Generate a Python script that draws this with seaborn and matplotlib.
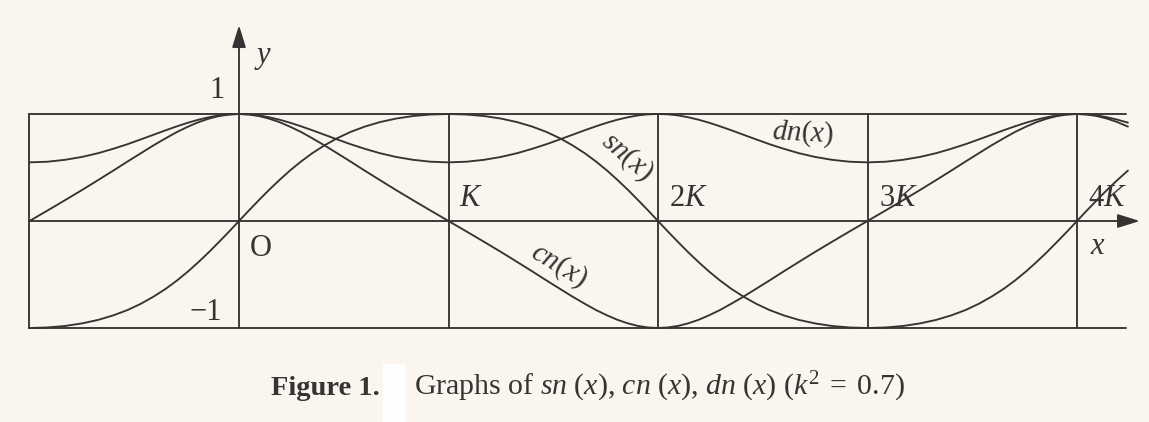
import matplotlib
matplotlib.use("Agg")
import matplotlib.pyplot as plt
import seaborn as sns
import pandas as pd
from matplotlib.patches import Rectangle

# Abscissa in units of the quarter period K, from -K to just past 4K
x_over_K = [
    -1.000, -0.914, -0.830, -0.749, -0.672, -0.600, -0.532, -0.468, -0.408,
    -0.350, -0.296, -0.243, -0.193, -0.143, -0.095, -0.047, 0.000,
    0.047, 0.095, 0.143, 0.193, 0.243, 0.296, 0.350, 0.408,
    0.468, 0.532, 0.600, 0.672, 0.749, 0.830, 0.914, 1.000,
    1.086, 1.170, 1.251, 1.328, 1.400, 1.468, 1.532, 1.592,
    1.650, 1.704, 1.757, 1.807, 1.857, 1.905, 1.953, 2.000,
    2.047, 2.095, 2.143, 2.193, 2.243, 2.296, 2.350, 2.408,
    2.468, 2.532, 2.600, 2.672, 2.749, 2.830, 2.914, 3.000,
    3.086, 3.170, 3.251, 3.328, 3.400, 3.468, 3.532, 3.592,
    3.650, 3.704, 3.757, 3.807, 3.857, 3.905, 3.953, 4.000,
    4.047, 4.095, 4.143, 4.193, 4.243,
]

sn_vals = [
    -1.000, -0.995, -0.981, -0.957, -0.924, -0.882, -0.832, -0.773, -0.707,
    -0.634, -0.556, -0.471, -0.383, -0.290, -0.195, -0.098, 0.000,
    0.098, 0.195, 0.290, 0.383, 0.471, 0.556, 0.634, 0.707,
    0.773, 0.832, 0.882, 0.924, 0.957, 0.981, 0.995, 1.000,
    0.995, 0.981, 0.957, 0.924, 0.882, 0.832, 0.773, 0.707,
    0.634, 0.556, 0.471, 0.383, 0.290, 0.195, 0.098, 0.000,
    -0.098, -0.195, -0.290, -0.383, -0.471, -0.556, -0.634, -0.707,
    -0.773, -0.832, -0.882, -0.924, -0.957, -0.981, -0.995, -1.000,
    -0.995, -0.981, -0.957, -0.924, -0.882, -0.832, -0.773, -0.707,
    -0.634, -0.556, -0.471, -0.383, -0.290, -0.195, -0.098, 0.000,
    0.098, 0.195, 0.290, 0.383, 0.471,
]

cn_vals = [
    0.000, 0.098, 0.195, 0.290, 0.383, 0.471, 0.556, 0.634, 0.707,
    0.773, 0.832, 0.882, 0.924, 0.957, 0.981, 0.995, 1.000,
    0.995, 0.981, 0.957, 0.924, 0.882, 0.832, 0.773, 0.707,
    0.634, 0.556, 0.471, 0.383, 0.290, 0.195, 0.098, 0.000,
    -0.098, -0.195, -0.290, -0.383, -0.471, -0.556, -0.634, -0.707,
    -0.773, -0.832, -0.882, -0.924, -0.957, -0.981, -0.995, -1.000,
    -0.995, -0.981, -0.957, -0.924, -0.882, -0.832, -0.773, -0.707,
    -0.634, -0.556, -0.471, -0.383, -0.290, -0.195, -0.098, 0.000,
    0.098, 0.195, 0.290, 0.383, 0.471, 0.556, 0.634, 0.707,
    0.773, 0.832, 0.882, 0.924, 0.957, 0.981, 0.995, 1.000,
    0.995, 0.981, 0.957, 0.924, 0.882,
]

dn_vals = [
    0.548, 0.554, 0.572, 0.599, 0.634, 0.675, 0.718, 0.763, 0.806,
    0.848, 0.885, 0.919, 0.947, 0.970, 0.987, 0.997, 1.000,
    0.997, 0.987, 0.970, 0.947, 0.919, 0.885, 0.848, 0.806,
    0.763, 0.718, 0.675, 0.634, 0.599, 0.572, 0.554, 0.548,
    0.554, 0.572, 0.599, 0.634, 0.675, 0.718, 0.763, 0.806,
    0.848, 0.885, 0.919, 0.947, 0.970, 0.987, 0.997, 1.000,
    0.997, 0.987, 0.970, 0.947, 0.919, 0.885, 0.848, 0.806,
    0.763, 0.718, 0.675, 0.634, 0.599, 0.572, 0.554, 0.548,
    0.554, 0.572, 0.599, 0.634, 0.675, 0.718, 0.763, 0.806,
    0.848, 0.885, 0.919, 0.947, 0.970, 0.987, 0.997, 1.000,
    0.997, 0.987, 0.970, 0.947, 0.919,
]

period_marks = [1, 2, 3, 4]
period_labels = [r"$K$", r"$2K$", r"$3K$", r"$4K$"]
caption_head = "Figure 1."
caption_body = r"Graphs of $sn\ (x)$, $cn\ (x)$, $dn\ (x)$ $(k^2\;=\;0.7)$"

sns.set_theme(style="white")
plt.rcParams["font.family"] = ["Liberation Serif", "DejaVu Serif"]
plt.rcParams["mathtext.fontset"] = "custom"
plt.rcParams["mathtext.rm"] = "Liberation Serif"
plt.rcParams["mathtext.it"] = "Liberation Serif:italic"
plt.rcParams["mathtext.bf"] = "Liberation Serif:bold"

paper = "#faf5ee"
ink = "#383232"
lw = 1.35

fig = plt.figure(figsize=(11.49, 4.22), dpi=100, facecolor=paper)
ax = fig.add_axes([0, 0, 1, 1])
ax.set_facecolor(paper)
ax.set_xlim(-239 / 209.5, (1149 - 239) / 209.5)
ax.set_ylim((221 - 422) / 107, 221 / 107)
ax.axis("off")


def px(x_pix, y_pix):
    """Pixel position on the page -> (x in K units, y value)."""
    return (x_pix - 239) / 209.5, (221 - y_pix) / 107


curves = pd.DataFrame({"x": x_over_K, "sn": sn_vals, "cn": cn_vals, "dn": dn_vals})
for name in ["sn", "cn", "dn"]:
    sns.lineplot(data=curves, x="x", y=name, ax=ax, color=ink, lw=lw,
                 legend=False, zorder=3)

# Frame: top and bottom rules, left edge and the period verticals
x_end = 4.234
ax.plot([-1, x_end], [1, 1], color=ink, lw=lw)
ax.plot([-1, x_end], [-1, -1], color=ink, lw=lw)
ax.plot([-1, -1], [-1, 1], color=ink, lw=lw)
for m in period_marks:
    ax.plot([m, m], [-1, 1], color=ink, lw=lw)

# Coordinate axes with arrow heads
arrow = dict(arrowstyle="-|>,head_length=1.35,head_width=0.42", color=ink,
             lw=lw, shrinkA=0, shrinkB=0, mutation_scale=10)
ax.annotate("", xy=(4.30, 0), xytext=(-1, 0), arrowprops=arrow)
ax.annotate("", xy=(0, 1.83), xytext=(0, -1), arrowprops=arrow)

fs = 22
ax.text(*px(263, 58), r"$y$", fontsize=fs, ha="center", va="center", color=ink)
ax.text(*px(1098, 246), r"$x$", fontsize=fs, ha="center", va="center", color=ink)
ax.text(*px(217, 91), "1", fontsize=fs, ha="center", va="center", color=ink)
ax.text(*px(261, 248), "O", fontsize=fs, ha="center", va="center", color=ink)
ax.text(*px(206, 313), "\u22121", fontsize=fs, ha="center", va="center", color=ink)
for m, lab in zip(period_marks, period_labels):
    ax.text(m + 0.107 + (0.04 if m > 1 else 0), 0.206, lab, fontsize=fs,
            ha="center", va="center", color=ink)

fs_curve = 21
ax.text(*px(627, 157), r"$sn(x)$", fontsize=fs_curve, rotation=-41,
        ha="center", va="center", color=ink, rotation_mode="anchor")
ax.text(*px(559, 265), r"$cn(x)$", fontsize=fs_curve, rotation=-31,
        ha="center", va="center", color=ink, rotation_mode="anchor")
ax.text(*px(803, 133), r"$dn(x)$", fontsize=fs_curve, rotation=-3,
        ha="center", va="center", color=ink, rotation_mode="anchor")

# Caption
cap_x, cap_y = px(271, 395)
ax.text(cap_x, cap_y, caption_head, fontsize=20.5,
        fontweight="bold", ha="left", va="baseline", color=ink)
ax.add_patch(Rectangle(px(383, 422), 22 / 209.5, 58 / 107, facecolor="#fefefd",
                       edgecolor="none", zorder=4))
ax.text(px(414, 0)[0], cap_y, caption_body, fontsize=21.5,
        ha="left", va="baseline", color=ink)

fig.savefig("out.png", dpi=100, facecolor=paper)
